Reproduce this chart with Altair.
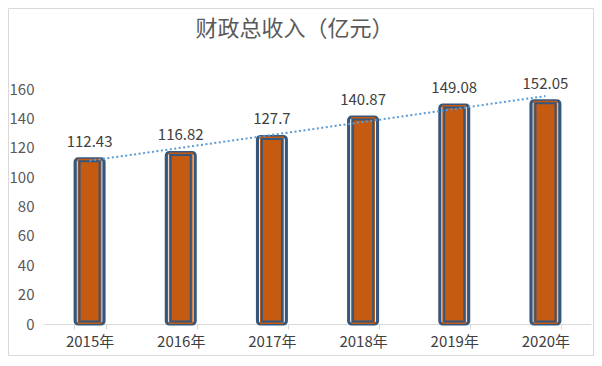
import altair as alt
import pandas as pd

years = ["2015年", "2016年", "2017年", "2018年", "2019年", "2020年"]
values = [112.43, 116.82, 127.7, 140.87, 149.08, 152.05]
labels = ["112.43", "116.82", "127.7", "140.87", "149.08", "152.05"]
y_ticks = [0, 20, 40, 60, 80, 100, 120, 140, 160]
title_text = "财政总收入（亿元）"

df = pd.DataFrame({"year": years, "value": values, "label": labels,
                   "idx": list(range(len(years)))})

FONT = "Noto Sans CJK SC"
W, H = 547, 235
BLUE = "#35577D"
ORANGE = "#C55A11"

xband = alt.X("year:N", sort=years,
              scale=alt.Scale(paddingInner=0.65, paddingOuter=0.325),
              axis=alt.Axis(title=None, labelAngle=0, tickBand="extent",
                            domainColor="#D9D9D9", tickColor="#D9D9D9",
                            tickSize=5, labelPadding=5, labelFontSize=15,
                            labelColor="#404040", labelFont=FONT))
yaxis = alt.Axis(title=None, values=y_ticks, grid=False, domain=False,
                 ticks=False, labelPadding=10, labelFontSize=15,
                 labelOverlap=False, labelColor="#595959", labelFont=FONT)
yq = alt.Y("value:Q", scale=alt.Scale(domain=[0, 160], nice=False), axis=yaxis)

base = alt.Chart(df)

outer = base.mark_bar(size=29, fill="white", stroke=BLUE, strokeWidth=3,
                      cornerRadius=3).encode(x=xband, y=yq)
mid = base.mark_bar(size=24, fill=ORANGE).encode(x=xband, y=yq)
inner = base.mark_bar(size=20, fill=ORANGE, stroke=BLUE, strokeWidth=2,
                      yOffset=2.5, y2Offset=-2.5).encode(
    x=xband, y=yq, y2=alt.datum(0))
text = base.mark_text(baseline="alphabetic", dy=-12, fontSize=15,
                      color="#404040", font=FONT).encode(
    x=xband, y=yq, text="label:N")

trend = base.transform_regression("idx", "value", extent=[0, 5]).mark_line(
    color="#5B9BD5", strokeWidth=2, strokeDash=[2, 2.5], strokeCap="butt"
).encode(
    x=alt.X("idx:Q", scale=alt.Scale(domain=[-0.5, 5.5], nice=False, zero=False),
            axis=None),
    y=yq,
)

deco = alt.Chart(pd.DataFrame({"t": [title_text]}))
frame = deco.mark_rect(
    fill=None, stroke="#D9D9D9", strokeWidth=1
).encode(x=alt.value(-35.5), x2=alt.value(W + 2.5),
         y=alt.value(-80.5), y2=alt.value(H + 31.5))
title = deco.mark_text(fontSize=22, font=FONT, color="#595959",
                       baseline="middle", align="center").encode(
    x=alt.value(W / 2 - 23), y=alt.value(-60), text="t:N")

bars = alt.layer(outer, mid, inner, text)
chart = alt.layer(frame, title, bars, trend).resolve_scale(x="independent").properties(
    width=W, height=H,
    autosize=alt.AutoSizeParams(type="none"),
    padding={"left": 36, "top": 81, "right": 3, "bottom": 32},
).configure_view(stroke=None)

chart.save("out.html", embed_options={"renderer": "svg", "actions": False})
